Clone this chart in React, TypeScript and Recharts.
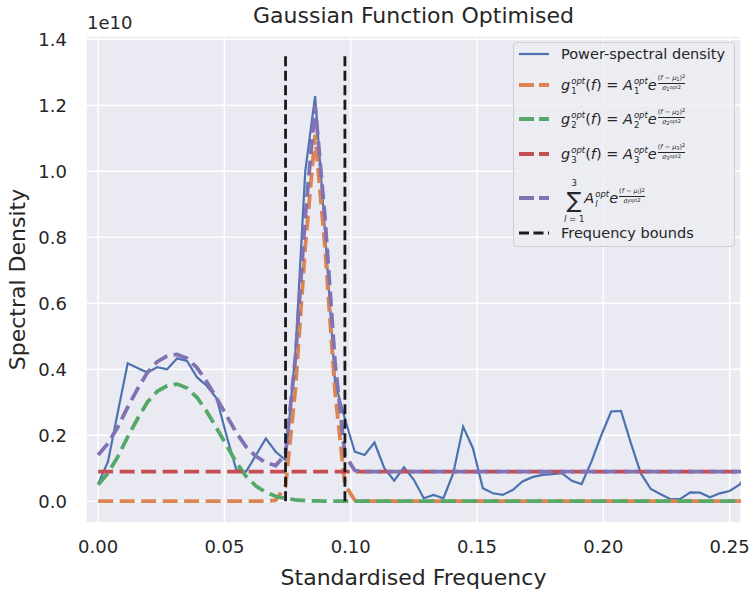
import React from "react"
import { LineChart, Line, XAxis, YAxis, CartesianGrid } from "recharts"

// standardised frequency of each sample
const freqs = [
  0, 0.0039, 0.0078, 0.0117, 0.0156, 0.0195, 0.0234, 0.0273, 0.0313, 0.0352,
  0.0391, 0.043, 0.0469, 0.0508, 0.0547, 0.0586, 0.0625, 0.0664, 0.0703, 0.0742,
  0.0781, 0.082, 0.0859, 0.0898, 0.0938, 0.0977, 0.1016, 0.1055, 0.1094, 0.1133,
  0.1172, 0.1211, 0.125, 0.1289, 0.1328, 0.1367, 0.1406, 0.1445, 0.1484, 0.1523,
  0.1563, 0.1602, 0.1641, 0.168, 0.1719, 0.1758, 0.1797, 0.1836, 0.1875, 0.1914,
  0.1953, 0.1992, 0.2031, 0.207, 0.2109, 0.2148, 0.2188, 0.2227, 0.2266, 0.2305,
  0.2344, 0.2383, 0.2422, 0.2461, 0.25, 0.2539, 0.2578,
]

// values in units of 1e10
const psd = [
  0.052, 0.12, 0.27, 0.418, 0.404, 0.39, 0.406, 0.4, 0.433, 0.425,
  0.376, 0.35, 0.312, 0.2, 0.095, 0.09, 0.14, 0.19, 0.15, 0.125,
  0.45, 1.0, 1.228, 0.82, 0.36, 0.25, 0.15, 0.14, 0.178, 0.1,
  0.062, 0.103, 0.065, 0.009, 0.019, 0.009, 0.085, 0.226, 0.16, 0.039,
  0.024, 0.019, 0.034, 0.06, 0.073, 0.08, 0.082, 0.085, 0.062, 0.052,
  0.12, 0.2, 0.272, 0.274, 0.176, 0.085, 0.037, 0.021, 0.006, 0.007,
  0.027, 0.026, 0.012, 0.024, 0.031, 0.05, 0.09,
]

const gauss1 = [
  0, 0, 0, 0, 0, 0, 0, 0, 0, 0,
  0, 0, 0, 0, 0, 0, 0, 0, 0.003, 0.045,
  0.34, 0.77, 1.11, 0.77, 0.33, 0.05, 0.003, 0, 0, 0,
  0, 0, 0, 0, 0, 0, 0, 0, 0, 0,
  0, 0, 0, 0, 0, 0, 0, 0, 0, 0,
  0, 0, 0, 0, 0, 0, 0, 0, 0, 0,
  0, 0, 0, 0, 0, 0, 0,
]

const gauss2 = [
  0.05, 0.085, 0.135, 0.195, 0.25, 0.3, 0.333, 0.35, 0.355, 0.343,
  0.315, 0.272, 0.222, 0.17, 0.118, 0.075, 0.046, 0.027, 0.015, 0.008,
  0.004, 0.002, 0.001, 0, 0, 0, 0, 0, 0, 0,
  0, 0, 0, 0, 0, 0, 0, 0, 0, 0,
  0, 0, 0, 0, 0, 0, 0, 0, 0, 0,
  0, 0, 0, 0, 0, 0, 0, 0, 0, 0,
  0, 0, 0, 0, 0, 0, 0,
]

const gauss3 = [
  0.09, 0.09, 0.09, 0.09, 0.09, 0.09, 0.09, 0.09, 0.09, 0.09,
  0.09, 0.09, 0.09, 0.09, 0.09, 0.09, 0.09, 0.09, 0.09, 0.09,
  0.09, 0.09, 0.09, 0.09, 0.09, 0.09, 0.09, 0.09, 0.09, 0.09,
  0.09, 0.09, 0.09, 0.09, 0.09, 0.09, 0.09, 0.09, 0.09, 0.09,
  0.09, 0.09, 0.09, 0.09, 0.09, 0.09, 0.09, 0.09, 0.09, 0.09,
  0.09, 0.09, 0.09, 0.09, 0.09, 0.09, 0.09, 0.09, 0.09, 0.09,
  0.09, 0.09, 0.09, 0.09, 0.09, 0.09, 0.09,
]

const gaussSum = [
  0.14, 0.175, 0.225, 0.285, 0.34, 0.39, 0.423, 0.44, 0.445, 0.433,
  0.405, 0.362, 0.312, 0.26, 0.208, 0.165, 0.136, 0.117, 0.108, 0.143,
  0.434, 0.862, 1.201, 0.86, 0.42, 0.14, 0.093, 0.09, 0.09, 0.09,
  0.09, 0.09, 0.09, 0.09, 0.09, 0.09, 0.09, 0.09, 0.09, 0.09,
  0.09, 0.09, 0.09, 0.09, 0.09, 0.09, 0.09, 0.09, 0.09, 0.09,
  0.09, 0.09, 0.09, 0.09, 0.09, 0.09, 0.09, 0.09, 0.09, 0.09,
  0.09, 0.09, 0.09, 0.09, 0.09, 0.09, 0.09,
]

const boundLow = 0.0742
const boundHigh = 0.0977
const boundTop = 1.35

const xTicks = [0, 0.05, 0.1, 0.15, 0.2, 0.25]
const yTicks = [0, 0.2, 0.4, 0.6, 0.8, 1.0, 1.2, 1.4]

const ink = "#262626"
const font = "'DejaVu Sans', sans-serif"
const colors = {
  psd: "#4C72B0",
  g1: "#DD8452",
  g2: "#55A868",
  g3: "#C44E52",
  sum: "#8172B3",
  bounds: "#1a1a1a",
}

const rows = freqs.map((f, i) => ({
  f,
  psd: psd[i],
  g1: gauss1[i],
  g2: gauss2[i],
  g3: gauss3[i],
  sum: gaussSum[i],
}))

const lowBound = [
  { f: boundLow, v: 0 },
  { f: boundLow, v: boundTop },
]
const highBound = [
  { f: boundHigh, v: 0 },
  { f: boundHigh, v: boundTop },
]

// small raised / lowered text that does not grow the line box
function Small({ dy, children }: { dy: number; children: React.ReactNode }) {
  return <span style={{ fontSize: 5, lineHeight: "5px", position: "relative", top: dy }}>{children}</span>
}

function SupSub({ sub, subItalic }: { sub: string; subItalic?: boolean }) {
  return (
    <span
      style={{
        display: "inline-flex",
        flexDirection: "column",
        fontSize: 8.5,
        lineHeight: "10px",
        verticalAlign: "6px",
        marginLeft: 1,
      }}
    >
      <span style={{ fontStyle: "italic" }}>opt</span>
      <span style={{ fontStyle: subItalic ? "italic" : "normal" }}>{sub}</span>
    </span>
  )
}

function Frac({ k }: { k: string }) {
  return (
    <span
      style={{
        display: "inline-flex",
        flexDirection: "column",
        alignItems: "center",
        fontSize: 6.5,
        lineHeight: "7px",
        verticalAlign: "10px",
        marginLeft: 1,
      }}
    >
      <span style={{ paddingBottom: 1 }}>
        (<i>f</i> − <i>μ</i>
        <Small dy={1}>{k}</Small>)<Small dy={-1.5}>2</Small>
      </span>
      <span style={{ borderTop: `0.8px solid ${ink}`, alignSelf: "stretch", textAlign: "center", paddingTop: 1 }}>
        <i>σ</i>
        <Small dy={1}>{k}</Small>
        <Small dy={-1}>opt2</Small>
      </span>
    </span>
  )
}

function GaussLabel({ k }: { k: string }) {
  return (
    <span>
      <i>g</i>
      <SupSub sub={k} />(<i>f</i>) = <i>A</i>
      <SupSub sub={k} />
      <i>e</i>
      <Frac k={k} />
    </span>
  )
}

function SumLabel() {
  return (
    <span style={{ display: "inline-flex", alignItems: "center" }}>
      <span
        style={{
          display: "inline-flex",
          flexDirection: "column",
          alignItems: "center",
          marginLeft: 3,
        }}
      >
        <span style={{ fontSize: 8.5, lineHeight: "10px" }}>3</span>
        <span style={{ fontSize: 22, lineHeight: "26px" }}>∑</span>
        <span style={{ fontSize: 8.5, lineHeight: "10px" }}>
          <i>l</i> = 1
        </span>
      </span>
      <span style={{ marginTop: -4 }}>
        <i>A</i>
        <SupSub sub="l" subItalic />
        <i>e</i>
        <Frac k="l" />
      </span>
    </span>
  )
}

function Handle({ color, dash, width }: { color: string; dash?: string; width: number }) {
  return (
    <svg width={30} height={6} style={{ display: "block", flex: "none" }}>
      <line x1={0} y1={3} x2={30} y2={3} stroke={color} strokeWidth={width} strokeDasharray={dash} />
    </svg>
  )
}

const legendItems = [
  { center: 54, h: 20, color: colors.psd, width: 2.2, dash: undefined, label: <span>Power-spectral density</span> },
  { center: 85, h: 30, color: colors.g1, width: 3.8, dash: "15 5", label: <GaussLabel k="1" /> },
  { center: 119, h: 30, color: colors.g2, width: 3.8, dash: "15 5", label: <GaussLabel k="2" /> },
  { center: 154, h: 30, color: colors.g3, width: 3.8, dash: "15 5", label: <GaussLabel k="3" /> },
  { center: 198, h: 48, color: colors.sum, width: 3.8, dash: "15 5", label: <SumLabel /> },
  { center: 233, h: 20, color: colors.bounds, width: 2.8, dash: "10 4.5", label: <span>Frequency bounds</span> },
]

function LegendBox() {
  return (
    <div
      style={{
        position: "absolute",
        left: 513,
        top: 42,
        width: 222,
        height: 205,
        boxSizing: "border-box",
        border: "1px solid #cfcfd6",
        borderRadius: 4,
        background: "rgba(236,236,243,0.8)",
        fontFamily: font,
        fontSize: 14.5,
        color: ink,
      }}
    >
      {legendItems.map((item, i) => (
        <div
          key={i}
          style={{
            position: "absolute",
            left: 5,
            top: item.center - 43 - item.h / 2,
            height: item.h,
            display: "flex",
            alignItems: "center",
            whiteSpace: "nowrap",
          }}
        >
          <Handle color={item.color} dash={item.dash} width={item.width} />
          <span style={{ marginLeft: 12 }}>{item.label}</span>
        </div>
      ))}
    </div>
  )
}

export default function App() {
  const tickStyle = { fontSize: 18, fill: ink, fontFamily: font }
  return (
    <div
      style={{
        position: "absolute",
        left: 0,
        top: 0,
        width: 751,
        height: 591,
        background: "#fff",
        overflow: "hidden",
        fontFamily: font,
        color: ink,
      }}
    >
      <LineChart width={751} height={591} data={rows} margin={{ top: 36, right: 10, bottom: 0, left: 0 }}>
        <CartesianGrid fill="#EAEAF2" fillOpacity={1} stroke="#ffffff" strokeWidth={1.5} />
        <XAxis
          dataKey="f"
          type="number"
          domain={[-0.0048, 0.2545]}
          allowDataOverflow
          ticks={xTicks}
          tickFormatter={(v) => v.toFixed(2)}
          axisLine={false}
          tickLine={false}
          tickSize={0}
          tickMargin={17}
          height={68}
          tick={tickStyle}
          label={{
            value: "Standardised Frequency",
            position: "insideBottom",
            offset: 6,
            fontSize: 22,
            fill: ink,
            fontFamily: font,
          }}
        />
        <YAxis
          type="number"
          domain={[-0.066, 1.41]}
          allowDataOverflow
          ticks={yTicks}
          tickFormatter={(v) => v.toFixed(1)}
          axisLine={false}
          tickLine={false}
          tickSize={0}
          tickMargin={19}
          width={86}
          tick={tickStyle}
          label={{
            value: "Spectral Density",
            angle: -90,
            position: "insideLeft",
            offset: 17,
            fontSize: 22,
            fill: ink,
            fontFamily: font,
            style: { textAnchor: "middle" },
          }}
        />
        <Line type="linear" dataKey="psd" stroke={colors.psd} strokeWidth={2.2} dot={false} activeDot={false} isAnimationActive={false} />
        <Line type="linear" dataKey="g1" stroke={colors.g1} strokeWidth={3.8} strokeDasharray="15 6.5" dot={false} activeDot={false} isAnimationActive={false} />
        <Line type="linear" dataKey="g2" stroke={colors.g2} strokeWidth={3.8} strokeDasharray="15 6.5" dot={false} activeDot={false} isAnimationActive={false} />
        <Line type="linear" dataKey="g3" stroke={colors.g3} strokeWidth={3.8} strokeDasharray="15 6.5" dot={false} activeDot={false} isAnimationActive={false} />
        <Line type="linear" dataKey="sum" stroke={colors.sum} strokeWidth={3.8} strokeDasharray="15 6.5" dot={false} activeDot={false} isAnimationActive={false} />
        <Line data={lowBound} type="linear" dataKey="v" stroke={colors.bounds} strokeWidth={2.8} strokeDasharray="10 4.5" dot={false} activeDot={false} isAnimationActive={false} />
        <Line data={highBound} type="linear" dataKey="v" stroke={colors.bounds} strokeWidth={2.8} strokeDasharray="10 4.5" dot={false} activeDot={false} isAnimationActive={false} />
      </LineChart>
      <div
        style={{
          position: "absolute",
          left: 86,
          width: 655,
          top: 3,
          textAlign: "center",
          fontSize: 22,
          lineHeight: "26px",
        }}
      >
        Gaussian Function Optimised
      </div>
      <div style={{ position: "absolute", left: 87, top: 12, fontSize: 18, lineHeight: "21px" }}>1e10</div>
      <LegendBox />
    </div>
  )
}
